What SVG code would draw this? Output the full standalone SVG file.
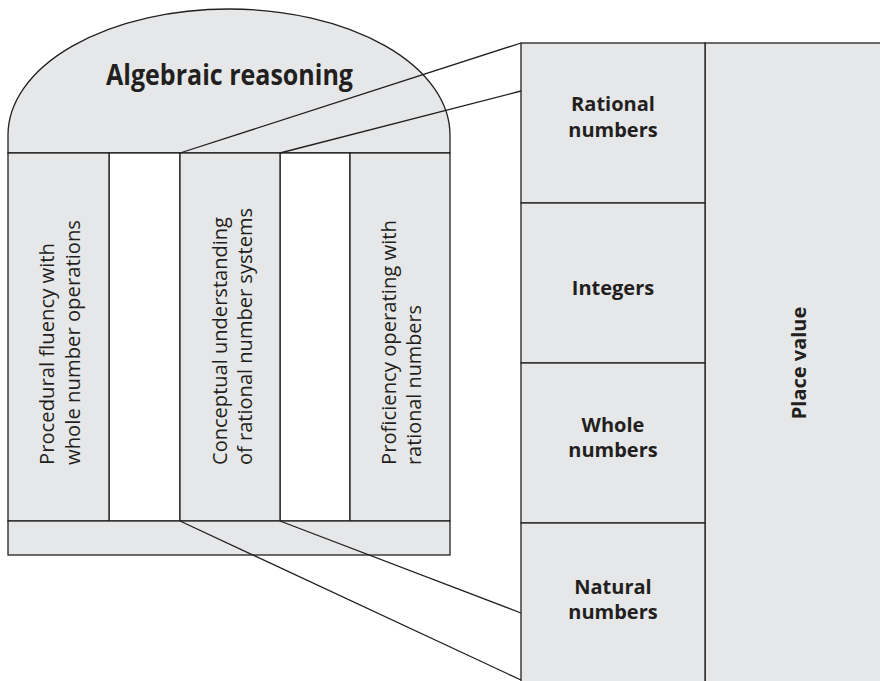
<svg xmlns="http://www.w3.org/2000/svg" width="880" height="681" viewBox="0 0 880 681">
<style>
.box{fill:#e6e7e8;stroke:#231f20;stroke-width:1.3}
.gap{fill:#ffffff;stroke:#231f20;stroke-width:1.3}
.ln{fill:none;stroke:#231f20;stroke-width:1.3}
.reg{font-family:"Open Sans","Noto Sans",sans-serif;font-size:20.5px;fill:#231f20}
.bld{font-family:"Open Sans","Noto Sans",sans-serif;font-weight:bold;font-size:20px;fill:#231f20;text-anchor:middle}
</style>
<rect width="880" height="681" fill="#ffffff"/>
<g id="arch">
<path class="box" d="M8,153 L8,135 A221,126 0 0 1 450,135 L450,153 Z"/>
<text class="bld" x="229.5" y="85" style="font-size:28.5px" textLength="247" lengthAdjust="spacingAndGlyphs">Algebraic reasoning</text>
</g>
<g id="gaps">
<rect class="gap" x="109" y="153" width="71" height="368"/>
<rect class="gap" x="280" y="153" width="70" height="368"/>
</g>
<g id="pillar1">
<rect class="box" x="8" y="153" width="101" height="368"/>
<text class="reg" transform="translate(54,465) rotate(-90)" textLength="222" lengthAdjust="spacingAndGlyphs">Procedural fluency with</text>
<text class="reg" transform="translate(80,465) rotate(-90)" textLength="245" lengthAdjust="spacingAndGlyphs">whole number operations</text>
</g>
<g id="pillar2">
<rect class="box" x="180" y="153" width="100" height="368"/>
<text class="reg" transform="translate(227,465) rotate(-90)" textLength="248" lengthAdjust="spacingAndGlyphs">Conceptual understanding</text>
<text class="reg" transform="translate(252,465) rotate(-90)" textLength="257" lengthAdjust="spacingAndGlyphs">of rational number systems</text>
</g>
<g id="pillar3">
<rect class="box" x="350" y="153" width="100" height="368"/>
<text class="reg" transform="translate(396,465) rotate(-90)" textLength="245" lengthAdjust="spacingAndGlyphs">Proficiency operating with</text>
<text class="reg" transform="translate(421,465) rotate(-90)" textLength="160" lengthAdjust="spacingAndGlyphs">rational numbers</text>
</g>
<g id="base">
<rect class="box" x="8" y="521" width="442" height="34"/>
</g>
<g id="placevalue">
<rect class="box" x="705" y="43" width="180" height="645"/>
<text class="bld" transform="translate(806,363) rotate(-90)">Place value</text>
</g>
<g id="rational">
<rect class="box" x="521" y="43" width="184" height="160"/>
<text class="bld" x="613" y="111">Rational</text>
<text class="bld" x="613" y="137">numbers</text>
</g>
<g id="integers">
<rect class="box" x="521" y="203" width="184" height="160"/>
<text class="bld" x="613" y="295">Integers</text>
</g>
<g id="whole">
<rect class="box" x="521" y="363" width="184" height="160"/>
<text class="bld" x="613" y="432">Whole</text>
<text class="bld" x="613" y="457">numbers</text>
</g>
<g id="natural">
<rect class="box" x="521" y="523" width="184" height="165"/>
<text class="bld" x="613" y="594">Natural</text>
<text class="bld" x="613" y="619">numbers</text>
</g>
<g id="connectors">
<line class="ln" x1="180" y1="153" x2="521" y2="43"/>
<line class="ln" x1="280" y1="153" x2="521" y2="91"/>
<line class="ln" x1="180" y1="521" x2="521" y2="680"/>
<line class="ln" x1="280" y1="521" x2="521" y2="613"/>
</g>
</svg>
